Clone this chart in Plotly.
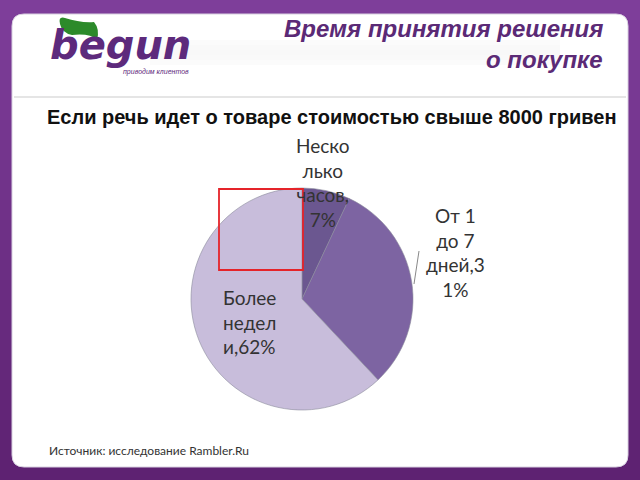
import plotly.graph_objects as go

labels = ["Несколько часов", "От 1 до 7 дней", "Более недели"]
values = [7, 31, 62]
label_text = ["Неско<br>лько<br>часов,<br>7%", "От 1<br>до 7<br>дней,3<br>1%", "Более<br>недел<br>и,62%"]
colors = ["#6b5790", "#7d64a2", "#c8bddb"]

title_lines = ["Время принятия решения", "о покупке"]
subtitle = "Если речь идет о товаре стоимостью свыше 8000 гривен"
source = "Источник: исследование Rambler.Ru"

W, H = 640, 480
def px(x): return x / W
def py(y): return 1 - y / H

fig = go.Figure()
fig.add_trace(go.Pie(
    labels=labels, values=values, sort=False, direction="clockwise", rotation=0,
    marker=dict(colors=colors, line=dict(color="#8a8a9a", width=0.6)),
    textinfo="none", hoverinfo="label+percent", showlegend=False,
    domain=dict(x=[px(191), px(413)], y=[py(410), py(188)]),
))

shapes = []
top_c = (126, 62, 154)
bot_c = (94, 34, 114)
n = 24
for i in range(n):
    t = i / (n - 1)
    c = tuple(int(top_c[k] + (bot_c[k] - top_c[k]) * t) for k in range(3))
    shapes.append(dict(type="rect", xref="paper", yref="paper", x0=0, x1=1,
                       y0=1 - (i + 1) / n, y1=1 - i / n, fillcolor="rgb(%d,%d,%d)" % c,
                       line=dict(width=0), layer="below"))

def conv_path(p):
    out = []
    for tok in p.split(" "):
        if "," in tok:
            a, b = tok.split(",")
            out.append(f"{px(float(a)):.5f},{py(float(b)):.5f}")
        else:
            out.append(tok)
    return " ".join(out)

x0, x1, y0, y1, r = 12, 628, 14, 467, 12
path = (f"M {x0+r},{y0} L {x1-r},{y0} Q {x1},{y0} {x1},{y0+r} L {x1},{y1-r} Q {x1},{y1} {x1-r},{y1} "
        f"L {x0+r},{y1} Q {x0},{y1} {x0},{y1-r} L {x0},{y0+r} Q {x0},{y0} {x0+r},{y0} Z")
shapes.append(dict(type="path", xref="paper", yref="paper", path=conv_path(path),
                   fillcolor="white", line=dict(color="#d8d0e0", width=1), layer="below"))
for i, op in enumerate([0.03, 0.05, 0.06, 0.05, 0.03]):
    shapes.append(dict(type="rect", xref="paper", yref="paper", x0=px(150), x1=px(560),
                       y0=py(40 + i * 5 + 5), y1=py(40 + i * 5), fillcolor="#888888",
                       opacity=op, line=dict(width=0), layer="below"))
shapes.append(dict(type="line", xref="paper", yref="paper", x0=px(14), x1=px(626),
                   y0=py(97), y1=py(97), line=dict(color="#dcdcdc", width=1.5)))
leaf = "M 60,24 Q 58,16 65,18 Q 80,23 94,22 Q 100,29 97,40 Q 90,33 72,35 Q 62,33 60,24 Z"
shapes.append(dict(type="path", xref="paper", yref="paper", path=conv_path(leaf),
                   fillcolor="#2c8a2a", line=dict(width=0)))
shapes.append(dict(type="rect", xref="paper", yref="paper", x0=px(219), x1=px(303),
                   y0=py(270), y1=py(189), line=dict(color="#e5242a", width=1.8)))
shapes.append(dict(type="line", xref="paper", yref="paper", x0=px(419), x1=px(414),
                   y0=py(251), y1=py(284), line=dict(color="#888888", width=1)))

ann = []
ann.append(dict(text="<b><i>" + title_lines[0] + "</i></b>", x=px(605), y=py(28), xanchor="right",
                yanchor="middle", font=dict(family="Liberation Sans, Arial", size=24, color="#5b2a76")))
ann.append(dict(text="<b><i>" + title_lines[1] + "</i></b>", x=px(605), y=py(59), xanchor="right",
                yanchor="middle", font=dict(family="Liberation Sans, Arial", size=24, color="#5b2a76")))
ann.append(dict(text="<b><i>begun</i></b>", x=px(48), y=py(45), xanchor="left", yanchor="middle",
                font=dict(family="DejaVu Sans, Liberation Sans", size=40, color="#5d2a7c")))
ann.append(dict(text="<i>приводим клиентов</i>", x=px(121), y=py(72), xanchor="left", yanchor="middle",
                font=dict(family="Liberation Sans, Arial", size=7, color="#5d2a7c")))
ann.append(dict(text="<b>" + subtitle + "</b>", x=px(332), y=py(117), xanchor="center", yanchor="middle",
                font=dict(family="Liberation Sans, Arial", size=20, color="#111111")))
ann.append(dict(text=source, x=px(47), y=py(450), xanchor="left", yanchor="middle",
                font=dict(family="Lato, Open Sans", size=12, color="#333333")))
lab_pos = [(323, 182, "center"), (455, 252, "center"), (221, 322, "left")]
for t, (x, y, al) in zip(label_text, lab_pos):
    ann.append(dict(text=t, x=px(x), y=py(y), xanchor="center" if al == "center" else "left",
                    yanchor="middle", align=al,
                    font=dict(family="Lato, Open Sans", size=19, color="#333333")))
for a in ann:
    a.update(xref="paper", yref="paper", showarrow=False)

fig.update_layout(width=W, height=H, margin=dict(l=0, r=0, t=0, b=0),
                  paper_bgcolor="#7b3a96", plot_bgcolor="rgba(0,0,0,0)",
                  shapes=shapes, annotations=ann)
fig.write_html("out.html")
